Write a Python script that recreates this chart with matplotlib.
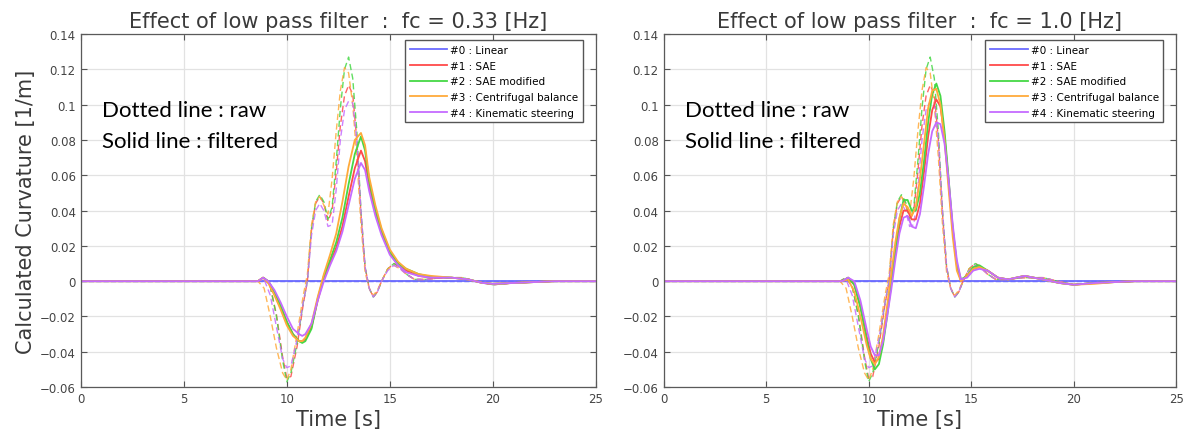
import matplotlib as mpl
mpl.use('Agg')
import matplotlib.pyplot as plt

# names / colours of the five models
names = ['#0 : Linear', '#1 : SAE', '#2 : SAE modified',
         '#3 : Centrifugal balance', '#4 : Kinematic steering']
colors = ['#6b6bff', '#ff4a4a', '#45d845', '#ffaa3a', '#c56bff']
fc_labels = ['0.33', '1.0']

# raw curvature (same in both panels)
t_raw = [0, 8.6, 8.9, 9.2, 9.5, 9.8, 10.0, 10.2, 10.5, 10.8, 11.0, 11.2, 11.4, 11.6, 11.8,
         12.0, 12.2, 12.4, 12.6, 12.8, 13.0, 13.2, 13.4, 13.6, 13.8, 14.0, 14.2, 14.4, 14.6,
         14.9, 15.2, 15.5, 15.8, 16.2, 16.8, 17.5, 18.5, 19.2, 20.0, 21.0, 22.0, 23.0, 25.0]
raw_sae = [0, 0, 0.002, -0.003, -0.019, -0.043, -0.055, -0.054, -0.037, -0.013, 0.000, 0.029,
           0.044, 0.048, 0.044, 0.034, 0.040, 0.062, 0.088, 0.105, 0.111, 0.106, 0.080, 0.038,
           0.008, -0.004, -0.009, -0.006, 0.000, 0.007, 0.010, 0.008, 0.004, 0.001, 0.001,
           0.002, 0.002, 0.000, -0.002, -0.001, -0.0005, 0, 0]
raw_saemod = [0, 0, 0.002, -0.003, -0.020, -0.045, -0.057, -0.052, -0.035, -0.012, 0.000, 0.030,
              0.045, 0.049, 0.045, 0.035, 0.042, 0.068, 0.098, 0.120, 0.127, 0.115, 0.085, 0.040,
              0.008, -0.004, -0.009, -0.006, 0.000, 0.007, 0.010, 0.008, 0.004, 0.001, 0.001,
              0.002, 0.002, 0.000, -0.002, -0.001, -0.0005, 0, 0]
raw_centri = [0, 0, -0.004, -0.020, -0.038, -0.052, -0.056, -0.050, -0.030, -0.008, 0.004, 0.032,
              0.045, 0.048, 0.043, 0.038, 0.058, 0.085, 0.108, 0.121, 0.118, 0.100, 0.070, 0.032,
              0.005, -0.004, -0.008, -0.005, 0.000, 0.007, 0.009, 0.007, 0.004, 0.001, 0.001,
              0.002, 0.002, 0.000, -0.002, -0.001, -0.0005, 0, 0]
raw_kine = [0, 0, 0.001, -0.008, -0.026, -0.044, -0.049, -0.048, -0.033, -0.012, 0.000, 0.026,
            0.040, 0.044, 0.040, 0.031, 0.032, 0.052, 0.080, 0.097, 0.102, 0.101, 0.080, 0.040,
            0.008, -0.004, -0.009, -0.006, 0.000, 0.006, 0.009, 0.007, 0.004, 0.001, 0.001,
            0.002, 0.002, 0.000, -0.002, -0.001, -0.0005, 0, 0]

# filtered, fc = 0.33 Hz
t_f033 = [0, 8.6, 8.85, 9.1, 9.4, 9.7, 10.0, 10.3, 10.6, 10.75, 10.9, 11.2, 11.5, 11.8, 12.1,
          12.4, 12.7, 13.0, 13.3, 13.6, 13.8, 14.0, 14.3, 14.6, 15.0, 15.4, 15.8, 16.4, 17.0,
          18.0, 18.8, 19.5, 20.0, 21.0, 22.0, 23.0, 25.0]
f033_sae = [0, 0, 0.002, 0.000, -0.006, -0.014, -0.023, -0.030, -0.034, -0.034, -0.033, -0.026,
            -0.011, 0.002, 0.010, 0.019, 0.031, 0.048, 0.064, 0.074, 0.068, 0.054, 0.039, 0.028,
            0.016, 0.009, 0.006, 0.003, 0.002, 0.002, 0.001, -0.001, -0.0015, -0.001, -0.0005, 0, 0]
f033_saemod = [0, 0, 0.002, 0.000, -0.006, -0.014, -0.023, -0.030, -0.034, -0.035, -0.034, -0.027,
               -0.010, 0.003, 0.012, 0.022, 0.036, 0.055, 0.072, 0.082, 0.074, 0.057, 0.041, 0.029,
               0.017, 0.010, 0.007, 0.004, 0.0025, 0.002, 0.001, -0.001, -0.0015, -0.001, -0.0005, 0, 0]
f033_centri = [0, 0, 0.002, -0.001, -0.008, -0.016, -0.025, -0.031, -0.034, -0.034, -0.032, -0.024,
               -0.009, 0.004, 0.015, 0.027, 0.045, 0.065, 0.080, 0.084, 0.077, 0.059, 0.043, 0.030,
               0.018, 0.011, 0.007, 0.004, 0.003, 0.002, 0.001, -0.001, -0.0015, -0.001, -0.0005, 0, 0]
f033_kine = [0, 0, 0.002, 0.000, -0.005, -0.012, -0.020, -0.027, -0.030, -0.031, -0.030, -0.024,
             -0.011, 0.000, 0.009, 0.017, 0.028, 0.043, 0.058, 0.067, 0.063, 0.051, 0.037, 0.026,
             0.015, 0.009, 0.005, 0.003, 0.002, 0.002, 0.001, -0.001, -0.0015, -0.001, -0.0005, 0, 0]

# filtered, fc = 1.0 Hz
t_f1 = [0, 8.7, 9.0, 9.3, 9.6, 9.9, 10.1, 10.3, 10.5, 10.7, 10.9, 11.1, 11.3, 11.5, 11.7, 11.9,
        12.1, 12.3, 12.5, 12.7, 12.9, 13.1, 13.3, 13.5, 13.7, 13.9, 14.1, 14.3, 14.5, 14.8, 15.1,
        15.4, 15.8, 16.3, 16.8, 17.6, 18.5, 19.3, 20.0, 21.0, 22.0, 23.0, 25.0]
f1_sae = [0, 0, 0.002, -0.002, -0.014, -0.031, -0.041, -0.046, -0.044, -0.034, -0.018, -0.001,
          0.016, 0.031, 0.040, 0.040, 0.035, 0.035, 0.044, 0.062, 0.082, 0.097, 0.103, 0.099,
          0.082, 0.056, 0.029, 0.009, 0.000, 0.003, 0.007, 0.008, 0.006, 0.002, 0.001, 0.003,
          0.001, -0.001, -0.002, -0.001, -0.0005, 0, 0]
f1_saemod = [0, 0, 0.002, -0.002, -0.015, -0.033, -0.044, -0.050, -0.047, -0.036, -0.020, -0.002,
             0.018, 0.035, 0.046, 0.046, 0.040, 0.040, 0.050, 0.068, 0.090, 0.106, 0.112, 0.105,
             0.085, 0.058, 0.030, 0.010, 0.001, 0.003, 0.008, 0.009, 0.006, 0.002, 0.001, 0.003,
             0.001, -0.001, -0.002, -0.001, -0.0005, 0, 0]
f1_centri = [0, 0, 0.001, -0.006, -0.020, -0.036, -0.044, -0.047, -0.043, -0.031, -0.014, 0.004,
             0.022, 0.036, 0.044, 0.042, 0.037, 0.042, 0.058, 0.078, 0.098, 0.108, 0.109, 0.100,
             0.080, 0.052, 0.025, 0.006, 0.000, 0.003, 0.007, 0.008, 0.006, 0.002, 0.001, 0.003,
             0.001, -0.001, -0.002, -0.0015, -0.0005, 0, 0]
f1_kine = [0, 0, 0.002, 0.000, -0.011, -0.027, -0.037, -0.042, -0.042, -0.034, -0.020, -0.005,
           0.012, 0.027, 0.036, 0.037, 0.031, 0.030, 0.038, 0.054, 0.072, 0.085, 0.090, 0.089,
           0.078, 0.057, 0.032, 0.012, 0.001, 0.002, 0.006, 0.007, 0.006, 0.002, 0.001, 0.003,
           0.001, -0.001, -0.002, -0.001, -0.0005, 0, 0]

raw_all = [raw_sae, raw_saemod, raw_centri, raw_kine]
panels = [(t_f033, [f033_sae, f033_saemod, f033_centri, f033_kine]),
          (t_f1, [f1_sae, f1_saemod, f1_centri, f1_kine])]

plt.rcParams['font.family'] = ['DejaVu Sans']
fig = plt.figure(figsize=(11.87, 4.39), dpi=100)
axes = [fig.add_axes([0.068, 0.116, 0.434, 0.804]),
        fig.add_axes([0.559, 0.116, 0.432, 0.804])]

txtc = '#3a3a3a'
for i, ax in enumerate(axes):
    t_f, filt = panels[i]
    # linear model: zero everywhere
    ax.plot([0, 25], [0, 0], color=colors[0], lw=1.3, label=names[0])
    ax.plot([0, 25], [0, 0], color=colors[0], lw=1.0, ls='--')
    for k in range(4):
        ax.plot(t_raw, raw_all[k], color=colors[k + 1], lw=1.0, ls=(0, (4.5, 2.5)), alpha=0.85)
    for k in range(4):
        ax.plot(t_f, filt[k], color=colors[k + 1], lw=1.3, label=names[k + 1])

    ax.set_xlim(0, 25)
    ax.set_ylim(-0.06, 0.14)
    ax.set_xticks([0, 5, 10, 15, 20, 25])
    ax.set_yticks([-0.06, -0.04, -0.02, 0, 0.02, 0.04, 0.06, 0.08, 0.1, 0.12, 0.14])
    ax.set_yticklabels(['\u22120.06', '\u22120.04', '\u22120.02', '0', '0.02', '0.04', '0.06',
                        '0.08', '0.1', '0.12', '0.14'])
    ax.grid(True, color='#e2e2e2', lw=0.9)
    ax.set_axisbelow(True)
    ax.tick_params(direction='in', top=True, right=True, length=4, width=0.8,
                   colors='#555555', labelcolor='#444444', labelsize=8.5)
    for s in ax.spines.values():
        s.set_color('#5a5a5a')
        s.set_linewidth(0.9)

    ax.set_title('Effect of low pass filter  :  fc = %s [Hz]' % fc_labels[i],
                 fontsize=15, color=txtc, pad=5)
    ax.set_xlabel('Time [s]', fontsize=15, color=txtc, labelpad=3)
    ax.text(0.042, 0.785, 'Dotted line : raw', transform=ax.transAxes, va='center',
            fontsize=16, family='Lato', color='black')
    ax.text(0.042, 0.697, 'Solid line : filtered', transform=ax.transAxes, va='center',
            fontsize=16, family='Lato', color='black')
    leg = ax.legend(loc='upper right', bbox_to_anchor=(0.975, 0.983), borderaxespad=0,
                    fontsize=7.5, handlelength=3.6, labelspacing=0.55,
                    fancybox=False, framealpha=1, edgecolor='#555555',
                    borderpad=0.45, handletextpad=0.3)
    leg.get_frame().set_linewidth(1.0)

axes[0].set_ylabel('Calculated Curvature [1/m]', fontsize=15, color=txtc, labelpad=3)

fig.savefig('out.png', dpi=100)
